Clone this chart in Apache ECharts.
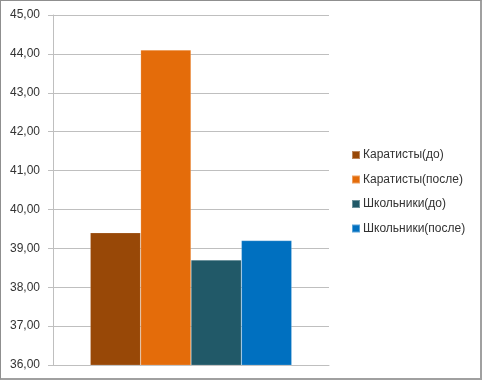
<!DOCTYPE html>
<html>
<head>
<meta charset="utf-8">
<script src="https://cdn.jsdelivr.net/npm/echarts@6/dist/echarts.min.js"></script>
<style>
html,body{margin:0;padding:0;background:#fff;}
#wrap{position:relative;width:482px;height:380px;}
#chart{position:absolute;left:0;top:0;width:482px;height:380px;}
#frame{position:absolute;left:0;top:0;width:482px;height:380px;box-sizing:border-box;border:1px solid #8f8f8f;border-right:2px solid #a0a0a0;border-bottom:2px solid #a0a0a0;pointer-events:none;}
</style>
</head>
<body>
<div id="wrap"><div id="chart"></div><div id="frame"></div></div>
<script>
var categories = [''];
var seriesNames = ['Каратисты(до)', 'Каратисты(после)', 'Школьники(до)', 'Школьники(после)'];
var seriesValues = [39.4, 44.1, 38.7, 39.2];
var seriesColors = ['#984807', '#E46C0A', '#215968', '#0070C0'];
var yMin = 36, yMax = 45, yStep = 1;

var chart = echarts.init(document.getElementById('chart'), null, {renderer: 'canvas'});
var series = seriesNames.map(function (n, i) {
  return {
    name: n,
    type: 'bar',
    data: [seriesValues[i]],
    barGap: '0%',
    barCategoryGap: '27%',
    itemStyle: {color: seriesColors[i], borderColor: 'rgba(255,255,255,0.35)', borderWidth: 0.5},
    emphasis: {disabled: true}
  };
});
chart.setOption({
  animation: false,
  textStyle: {fontFamily: 'Liberation Sans'},
  grid: {left: 53, right: 153, top: 15, bottom: 15, containLabel: false},
  legend: {
    orient: 'vertical',
    left: 351,
    top: 149,
    padding: 0,
    itemWidth: 8,
    itemHeight: 8,
    itemGap: 12.5,
    icon: 'rect',
    textStyle: {fontSize: 12, color: '#333333', fontFamily: 'Liberation Sans', padding: [0, 0, 0, -2]},
    data: seriesNames
  },
  xAxis: {
    type: 'category',
    data: categories,
    axisLine: {show: true, lineStyle: {color: '#bfbfbf'}},
    axisTick: {show: false},
    axisLabel: {show: false}
  },
  yAxis: {
    type: 'value',
    min: yMin, max: yMax, interval: yStep,
    axisLine: {show: true, lineStyle: {color: '#bfbfbf'}},
    axisTick: {show: true, length: 5, lineStyle: {color: '#bfbfbf'}},
    splitLine: {show: true, lineStyle: {color: '#bfbfbf'}},
    axisLabel: {
      margin: 13,
      fontSize: 12,
      color: '#333333',
      formatter: function (v) { return v.toFixed(2).replace('.', ','); }
    }
  },
  series: series
});
</script>
</body>
</html>
